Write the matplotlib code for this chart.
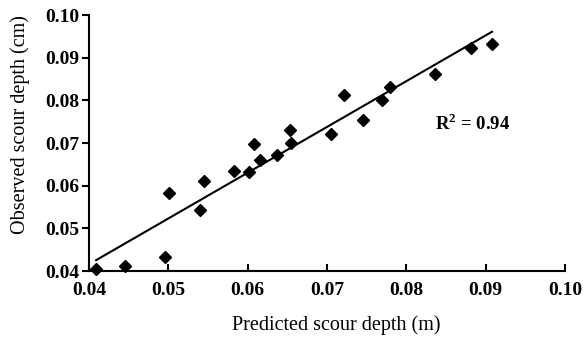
import numpy as np
import matplotlib
matplotlib.use("Agg")
import matplotlib.pyplot as plt

# values
predicted = [0.0409, 0.0446, 0.0496, 0.0501, 0.0540, 0.0545, 0.0583, 0.0602,
             0.0608, 0.0616, 0.0637, 0.0653, 0.0655, 0.0705, 0.0721, 0.0745,
             0.0769, 0.0779, 0.0836, 0.0882, 0.0908]
observed = [0.0405, 0.0411, 0.0433, 0.0582, 0.0544, 0.0611, 0.0634, 0.0633,
            0.0697, 0.0660, 0.0673, 0.0730, 0.0701, 0.0721, 0.0812, 0.0754,
            0.0800, 0.0832, 0.0861, 0.0922, 0.0933]
ticks = [0.04, 0.05, 0.06, 0.07, 0.08, 0.09, 0.10]
r2_text = "R$^2$ = 0.94"

plt.rcParams['font.family'] = ['Liberation Serif', 'DejaVu Serif']
plt.rcParams['mathtext.fontset'] = 'custom'
plt.rcParams['mathtext.rm'] = 'Liberation Serif:bold'

fig = plt.figure(figsize=(5.87, 3.42), dpi=100)
ax = fig.add_axes([0.1516, 0.2076, 0.8109, 0.7485])

x = np.array(predicted)
y = np.array(observed)
ax.plot(x, y, 'D', color='black', markersize=6.5, zorder=3, clip_on=False)

# linear trend line over the data range
slope, intercept = np.polyfit(x, y, 1)
xl = np.array([x.min(), x.max()])
ax.plot(xl, slope * xl + intercept, color='black', linewidth=1.5)

ax.text(0.0884, 0.0745, r2_text, fontsize=13.5, fontweight='bold', ha='center', va='center')

ax.set_xlim(0.04, 0.10)
ax.set_ylim(0.04, 0.10)
ax.set_xticks(ticks)
ax.set_yticks(ticks)
ax.set_xticklabels([f"{t:.2f}" for t in ticks], fontsize=14, fontweight='bold')
ax.set_yticklabels([f"{t:.2f}" for t in ticks], fontsize=14, fontweight='bold')
ax.tick_params(axis='x', direction='in', length=5, width=1.5, pad=8)
ax.tick_params(axis='y', direction='out', length=5, width=1.5, pad=2)

for s in ['top', 'right']:
    ax.spines[s].set_visible(False)
for s in ['left', 'bottom']:
    ax.spines[s].set_linewidth(1.5)

ax.set_xlabel("Predicted scour depth (m)", fontsize=14.5, va='center', ha='center')
ax.xaxis.set_label_coords(0.519, -0.211)
ax.set_ylabel("Observed scour depth (cm)", fontsize=14.5, va='center', ha='center')
ax.yaxis.set_label_coords(-0.145, 0.574)

plt.savefig("out.png", dpi=100)
